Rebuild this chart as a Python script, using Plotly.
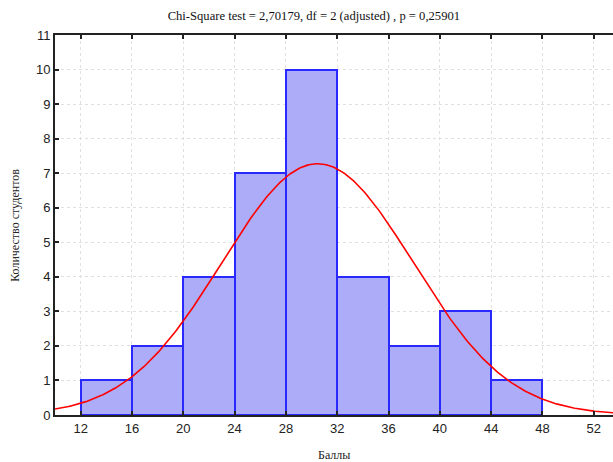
import numpy as np
import plotly.graph_objects as go

# Histogram data
bin_edges = [12, 16, 20, 24, 28, 32, 36, 40, 44, 48]
counts = [1, 2, 4, 7, 10, 4, 2, 3, 1]

# Fitted normal curve parameters
fit_mean = 30.47
fit_sd = 7.46
n_total = sum(counts)
bin_width = 4

x_ticks = [12, 16, 20, 24, 28, 32, 36, 40, 44, 48, 52]
y_ticks = list(range(0, 12))

title_text = "Chi-Square test = 2,70179, df = 2 (adjusted) , p = 0,25901"
x_title = "Баллы"
y_title = "Количество студентов"

centers = [(a + b) / 2 for a, b in zip(bin_edges[:-1], bin_edges[1:])]
widths = [b - a for a, b in zip(bin_edges[:-1], bin_edges[1:])]

xc = np.linspace(9.5, 54, 400)
yc = n_total * bin_width / (fit_sd * np.sqrt(2 * np.pi)) * np.exp(-0.5 * ((xc - fit_mean) / fit_sd) ** 2)

fig = go.Figure()
fig.add_trace(go.Bar(
    x=centers, y=counts, width=widths,
    marker=dict(color="rgb(172,172,248)", line=dict(color="rgb(40,40,255)", width=2)),
    hoverinfo="skip",
))
fig.add_trace(go.Scatter(
    x=xc, y=yc, mode="lines",
    line=dict(color="rgb(255,0,0)", width=1.6),
    hoverinfo="skip",
))

fig.update_layout(
    width=613, height=462,
    margin=dict(l=55, r=0, t=35, b=47, autoexpand=False),
    paper_bgcolor="white", plot_bgcolor="white",
    showlegend=False,
    bargap=0,
    title=dict(text=title_text, x=0.512, xanchor="center", y=0.967, yanchor="middle",
               font=dict(family="Liberation Serif", size=12.6, color="#111")),
    annotations=[
        dict(text=x_title, xref="paper", yref="paper", x=0.5, y=-0.105, xanchor="center", yanchor="middle",
             showarrow=False, font=dict(family="Liberation Serif", size=12, color="#222")),
        dict(text=y_title, xref="paper", yref="paper", x=-0.072, y=0.5, xanchor="center", yanchor="middle",
             textangle=-90, showarrow=False, font=dict(family="Liberation Serif", size=12, color="#222")),
    ],
)
fig.update_xaxes(
    range=[10, 53.5], tickvals=x_ticks, ticktext=[str(v) for v in x_ticks],
    automargin=False,
    showline=True, linecolor="#222", linewidth=2, mirror="ticks",
    ticks="inside", ticklen=4, tickcolor="#222", tickwidth=1.5,
    showgrid=True, gridcolor="#e0e0e0", griddash="dot", gridwidth=1,
    zeroline=False,
    tickfont=dict(family="Liberation Sans", size=13, color="#222"),
)
fig.update_yaxes(
    range=[0, 11], tickvals=y_ticks,
    automargin=False,
    showline=True, linecolor="#222", linewidth=2, mirror=False,
    ticks="inside", ticklen=4, tickcolor="#222", tickwidth=1.5,
    showgrid=True, gridcolor="#e0e0e0", griddash="dot", gridwidth=1,
    zeroline=False,
    tickfont=dict(family="Liberation Sans", size=13, color="#222"),
)

fig.write_html("out.html", config={"displayModeBar": False},
               post_script="document.body.style.margin='0';document.body.style.overflow='hidden';")
